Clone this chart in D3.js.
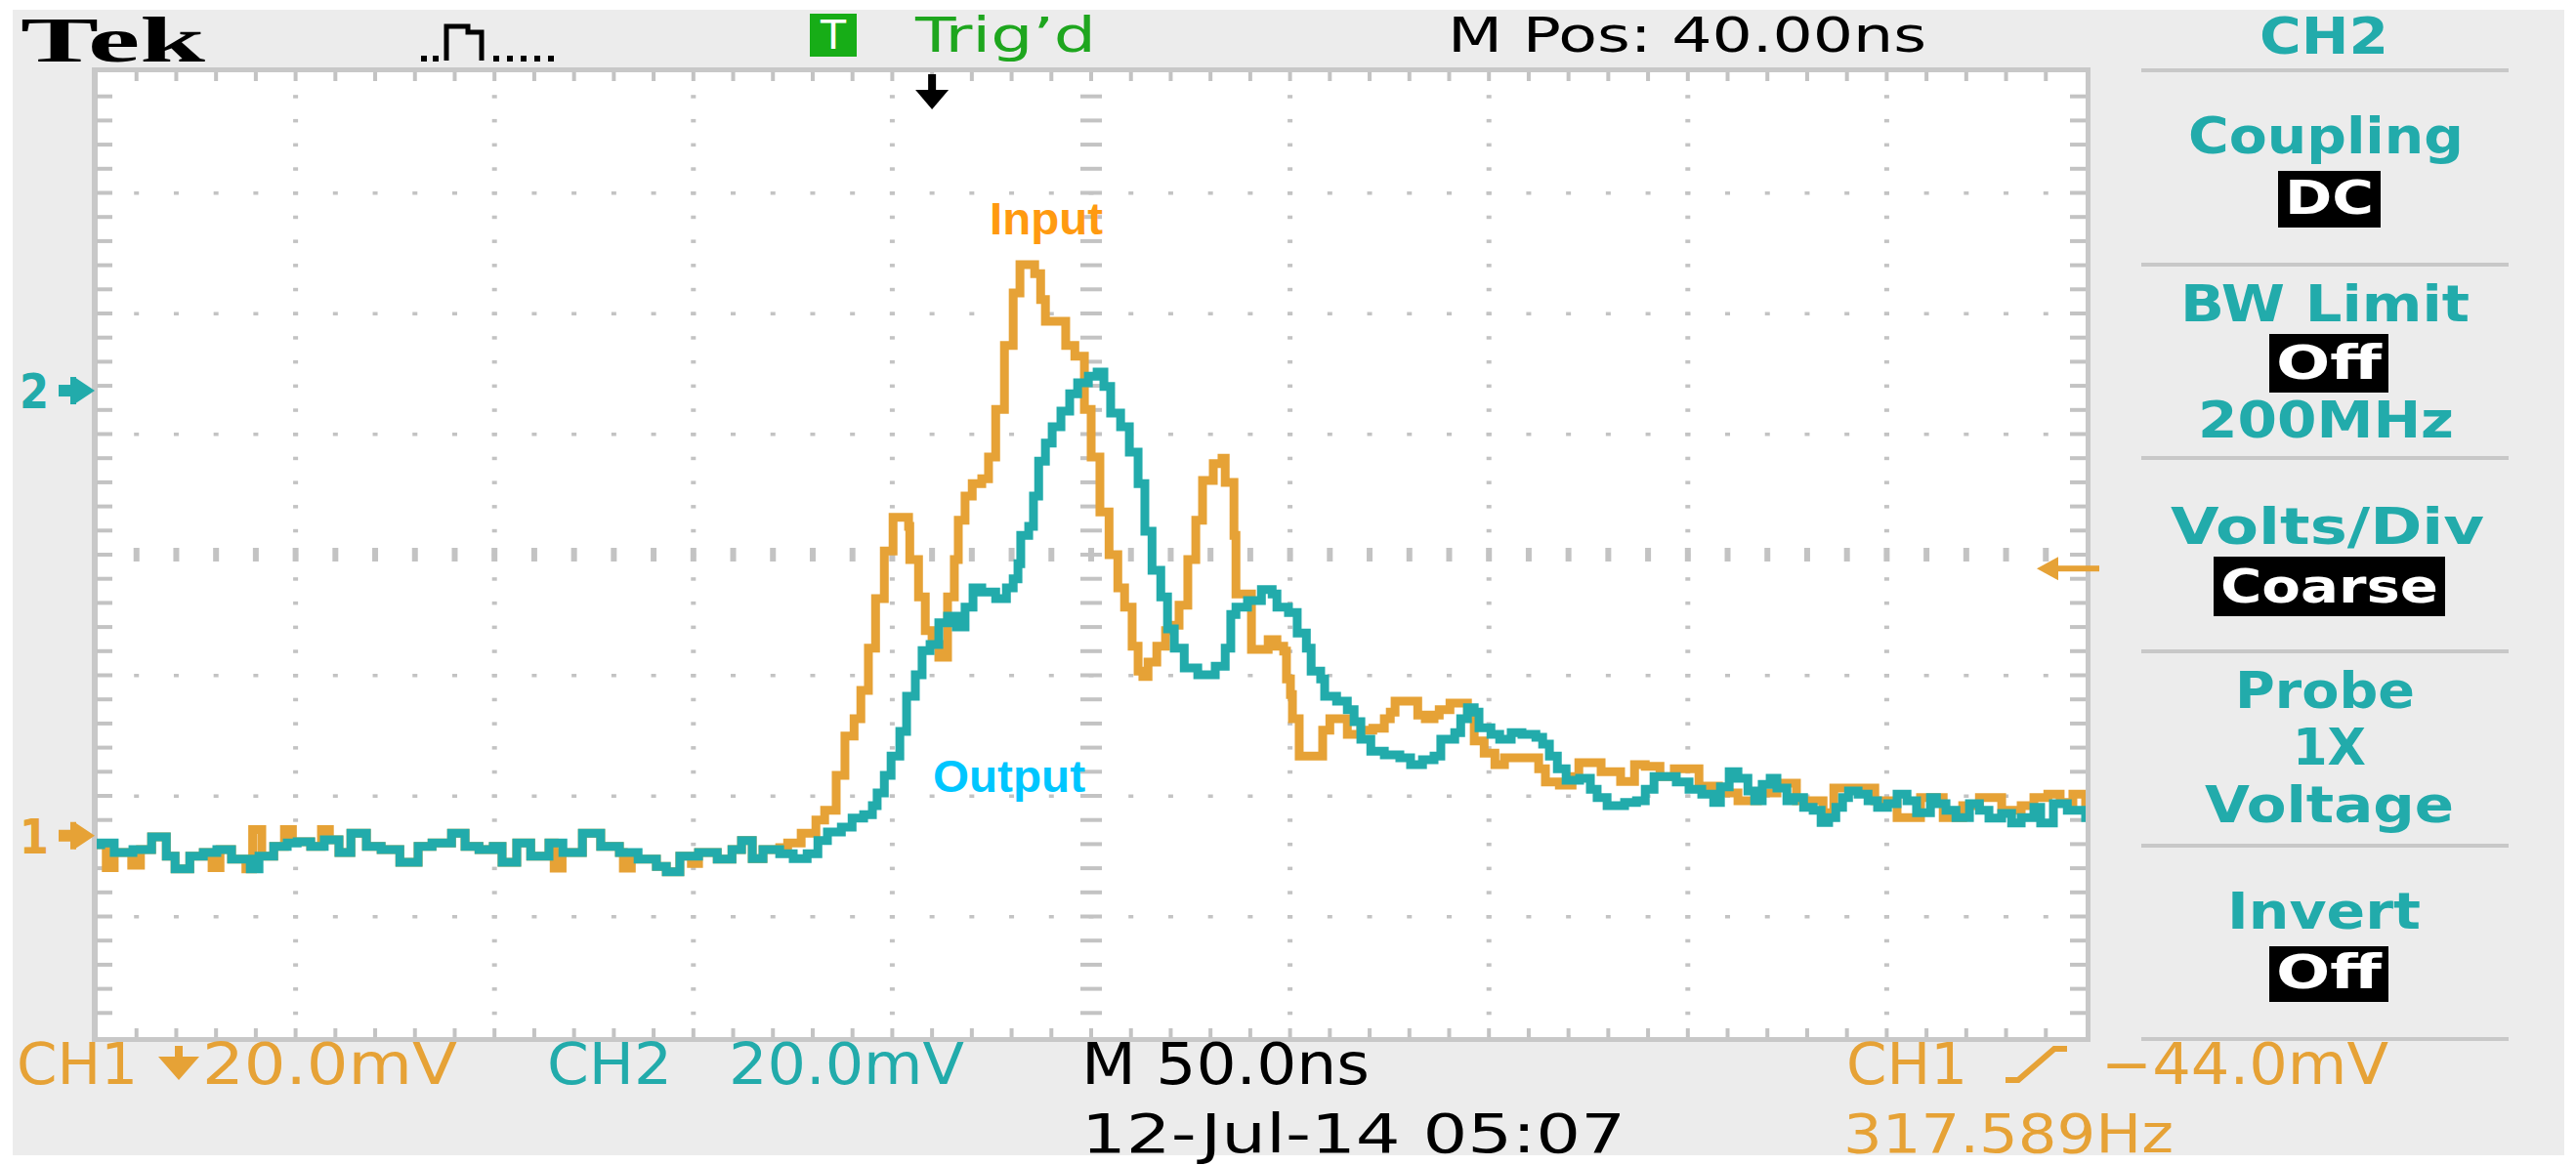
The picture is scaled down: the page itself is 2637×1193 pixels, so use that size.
<!DOCTYPE html>
<html>
<head>
<meta charset="utf-8">
<style>
  body { margin: 0; background: #ffffff; }
  svg { display: block; }
</style>
<script src="https://cdn.jsdelivr.net/npm/d3@7"></script>
</head>
<body>
<svg width="2637" height="1193"></svg>
<script>
//  scope settings
var nsPerDiv = 50;
var mvPerDiv = 20;
var hDivs = 10;
var vDivs = 8;
var mPos = 40;            // ns, trigger point left of screen centre
var ch1Ground = -46.6;    // mV from screen centre
var ch2Ground = 27.2;
var trigLevel = -2.3;

//  CH1 (input) trace, [time ns from trigger, mV from screen centre]
var ch1Trace = [[-210.0,-48.1],[-207.6,-51.9],[-205.6,-49.4],[-201.2,-51.5],[-199.0,-48.9],[-196.2,-46.8],[-192.5,-50.0],[-190.3,-52.1],[-186.6,-50.0],[-183.2,-49.4],[-181.0,-51.9],[-179.0,-48.9],[-176.1,-50.5],[-172.5,-52.1],[-170.8,-45.6],[-168.5,-50.0],[-165.5,-48.4],[-162.8,-45.6],[-160.8,-47.6],[-156.2,-48.4],[-153.5,-45.6],[-151.5,-47.3],[-149.1,-49.4],[-146.1,-46.2],[-142.2,-48.4],[-138.5,-48.9],[-133.8,-51.0],[-129.2,-48.4],[-125.7,-47.8],[-120.8,-46.2],[-117.4,-48.4],[-113.9,-48.9],[-110.3,-48.4],[-108.1,-51.0],[-104.4,-47.8],[-100.9,-50.0],[-96.3,-47.8],[-95.0,-52.0],[-93.0,-49.4],[-87.9,-46.2],[-83.3,-48.4],[-78.6,-49.4],[-77.6,-52.0],[-75.6,-50.5],[-69.3,-51.7],[-66.8,-52.6],[-63.4,-50.0],[-60.5,-51.2],[-58.7,-49.4],[-54.0,-50.5],[-50.3,-48.9],[-47.9,-47.4],[-45.2,-50.4],[-42.5,-48.9],[-38.3,-48.6],[-36.3,-47.8],[-32.9,-46.2],[-29.2,-44.0],[-27.0,-42.4],[-24.1,-36.6],[-21.9,-30.1],[-19.6,-27.2],[-17.9,-22.5],[-16.0,-15.5],[-14.2,-7.3],[-12.0,0.6],[-9.8,6.2],[-5.9,4.7],[-5.6,-0.8],[-3.4,-7.0],[-1.7,-12.6],[0.0,-14.9],[1.7,-17.0],[3.9,-7.0],[5.6,-0.8],[6.6,5.7],[8.3,9.7],[10.1,11.8],[12.5,12.6],[14.2,16.2],[16.0,24.1],[18.2,34.7],[20.4,43.4],[22.1,48.1],[25.8,46.6],[27.3,42.3],[28.5,38.7],[33.6,34.7],[35.9,32.9],[38.3,24.1],[40.0,16.2],[42.2,7.1],[44.5,0.0],[46.7,-5.5],[48.4,-8.7],[50.3,-15.2],[51.8,-19.3],[53.0,-20.2],[54.3,-17.8],[56.5,-15.2],[58.7,-12.6],[60.4,-11.7],[62.1,-8.4],[64.3,-0.8],[66.3,5.7],[68.0,12.3],[70.7,15.1],[72.9,16.0],[73.7,12.0],[75.9,3.2],[76.4,-6.5],[80.3,-15.7],[84.5,-14.1],[86.7,-15.2],[88.4,-16.0],[89.1,-20.6],[90.1,-23.2],[90.6,-27.2],[92.3,-33.4],[98.2,-29.1],[100.0,-27.2],[104.4,-29.8],[107.8,-29.1],[110.8,-28.8],[113.7,-27.2],[115.2,-26.1],[116.4,-24.3],[122.1,-26.6],[124.0,-27.2],[126.2,-26.6],[127.5,-25.7],[130.2,-24.6],[134.6,-27.0],[136.3,-30.9],[138.8,-32.9],[141.5,-34.8],[143.9,-33.7],[152.5,-35.5],[154.2,-37.7],[157.7,-38.2],[160.9,-36.8],[162.6,-34.5],[168.2,-36.0],[173.1,-37.6],[176.6,-34.8],[179.3,-35.1],[183.0,-36.8],[186.6,-35.5],[192.8,-38.4],[197.7,-39.5],[202.6,-40.8],[207.5,-39.5],[212.4,-37.9],[217.3,-40.8],[224.0,-42.8],[226.7,-38.7],[237.0,-40.8],[242.6,-43.6],[248.5,-40.3],[254.2,-43.6],[259.1,-41.6],[263.3,-40.3],[268.9,-42.4],[273.8,-41.6],[277.0,-40.3],[280.5,-39.7],[283.6,-41.1],[286.8,-39.7],[290.0,-41.6]];

//  CH2 (output) trace
var ch2Trace = [[-210.0,-48.1],[-209.0,-47.8],[-205.6,-49.4],[-200.9,-48.9],[-196.2,-46.8],[-192.5,-50.0],[-190.3,-52.1],[-186.6,-50.0],[-183.2,-49.4],[-179.8,-48.9],[-176.1,-50.5],[-171.4,-52.1],[-169.2,-50.0],[-165.5,-48.4],[-162.1,-47.8],[-159.6,-47.6],[-156.2,-48.4],[-152.8,-47.3],[-149.1,-49.4],[-146.1,-46.2],[-142.2,-48.4],[-138.5,-48.9],[-133.8,-51.0],[-129.2,-48.4],[-125.7,-47.8],[-120.8,-46.2],[-117.4,-48.4],[-113.9,-48.9],[-110.3,-48.4],[-108.1,-51.0],[-104.4,-47.8],[-100.9,-50.0],[-96.3,-47.8],[-92.8,-49.4],[-87.9,-46.2],[-83.3,-48.4],[-78.6,-49.4],[-73.9,-50.5],[-69.3,-51.7],[-66.8,-52.6],[-63.4,-50.0],[-58.7,-49.4],[-54.0,-50.5],[-50.3,-48.9],[-47.9,-47.4],[-45.2,-50.4],[-42.5,-48.9],[-38.3,-49.6],[-34.9,-50.4],[-31.4,-49.6],[-28.7,-47.4],[-26.3,-46.0],[-22.8,-45.2],[-20.1,-43.7],[-17.2,-43.1],[-15.0,-41.6],[-13.8,-39.5],[-12.0,-36.6],[-10.3,-33.4],[-8.1,-29.3],[-6.4,-23.5],[-4.2,-19.9],[-2.5,-15.9],[-0.5,-14.9],[1.7,-11.3],[3.9,-10.2],[6.1,-12.0],[8.3,-8.7],[10.3,-5.5],[12.5,-6.2],[16.0,-7.3],[18.7,-5.5],[20.4,-4.0],[21.6,-1.5],[22.3,3.2],[24.3,4.7],[25.5,9.7],[26.8,15.5],[28.5,18.5],[30.2,21.2],[32.4,23.8],[34.6,26.7],[36.6,28.5],[39.3,29.6],[41.5,30.3],[43.2,27.9],[44.9,23.5],[47.4,21.2],[49.6,17.0],[51.8,11.8],[53.5,3.9],[55.3,-2.6],[57.5,-7.0],[59.2,-12.3],[60.9,-15.5],[63.4,-18.8],[66.8,-19.9],[71.2,-18.5],[73.7,-15.5],[75.1,-9.9],[76.4,-8.7],[79.3,-7.6],[82.8,-5.8],[85.5,-6.5],[86.7,-8.7],[89.6,-9.6],[91.8,-13.0],[94.1,-15.5],[95.3,-19.3],[97.7,-20.6],[98.7,-23.5],[101.7,-24.3],[104.4,-25.7],[106.1,-27.7],[107.8,-30.6],[110.3,-32.6],[113.7,-33.2],[117.6,-33.7],[120.3,-34.8],[123.3,-34.0],[126.2,-33.4],[127.9,-30.6],[131.4,-29.5],[132.9,-27.2],[134.6,-25.4],[136.3,-26.1],[137.5,-28.7],[140.5,-29.8],[142.7,-30.6],[145.6,-29.5],[148.3,-29.8],[151.8,-30.3],[153.5,-31.4],[155.2,-33.4],[157.2,-35.5],[159.4,-37.4],[162.8,-37.1],[165.5,-38.9],[167.2,-40.3],[169.7,-41.6],[174.1,-41.1],[177.1,-40.8],[179.3,-38.9],[181.5,-36.8],[187.1,-37.7],[190.3,-38.9],[193.5,-39.7],[196.5,-41.1],[198.2,-38.5],[200.4,-36.0],[202.6,-37.1],[205.1,-39.2],[206.8,-40.8],[208.7,-38.1],[210.7,-37.1],[212.4,-38.7],[214.9,-40.8],[216.6,-40.3],[219.1,-41.9],[221.5,-42.4],[223.5,-44.4],[225.4,-43.6],[227.2,-41.9],[228.9,-40.3],[230.4,-39.2],[232.8,-39.7],[235.3,-40.8],[237.7,-41.9],[240.2,-41.3],[242.6,-39.7],[245.1,-40.8],[247.5,-42.8],[251.0,-40.3],[252.5,-41.3],[254.9,-42.4],[257.4,-43.6],[260.8,-41.3],[263.3,-42.4],[265.7,-43.7],[268.9,-42.9],[271.4,-44.5],[273.8,-43.6],[277.0,-41.9],[278.7,-44.5],[281.9,-41.3],[285.4,-42.4],[290.0,-43.6]];

//  colours
var orange = "#e6a236";
var teal = "#22abab";
var gridGray = "#c3c3c3";
var condFont = "'DejaVu Sans Condensed', 'DejaVu Sans', sans-serif";
var wideFont = "'DejaVu Sans', Verdana, sans-serif";

var svg = d3.select("svg");
var width = +svg.attr("width");
var height = +svg.attr("height");

//  graticule area
var plotLeft = 99, plotRight = 2135, plotTop = 74, plotBottom = 1062;
var timeStart = mPos - hDivs / 2 * nsPerDiv;

var x = d3.scaleLinear()
  .domain([timeStart, timeStart + hDivs * nsPerDiv])
  .range([plotLeft, plotRight]);
var y = d3.scaleLinear()
  .domain([-vDivs / 2 * mvPerDiv, vDivs / 2 * mvPerDiv])
  .range([plotBottom, plotTop]);

//  background
svg.append("rect").attr("x", 13).attr("y", 10).attr("width", 2612).attr("height", 1173).attr("fill", "#ececec");
svg.append("rect").attr("x", plotLeft - 5).attr("y", plotTop - 5)
  .attr("width", plotRight - plotLeft + 10).attr("height", plotBottom - plotTop + 10).attr("fill", "#c8c8c8");
svg.append("rect").attr("x", plotLeft + 1).attr("y", plotTop)
  .attr("width", plotRight - plotLeft - 1).attr("height", plotBottom - plotTop).attr("fill", "#ffffff");

var grid = svg.append("g");
var minorT = d3.range(timeStart, timeStart + hDivs * nsPerDiv + 0.01, nsPerDiv / 5);
var minorV = d3.range(-vDivs / 2 * mvPerDiv, vDivs / 2 * mvPerDiv + 0.01, mvPerDiv / 5);
var majorT = d3.range(1, hDivs).map(function(i) { return timeStart + i * nsPerDiv; });
var majorV = d3.range(1, vDivs).map(function(i) { return -vDivs / 2 * mvPerDiv + i * mvPerDiv; });
var centreT = timeStart + hDivs / 2 * nsPerDiv;

//  dots along the major lines
majorT.forEach(function(t) {
  if (t === centreT) return;
  minorV.slice(1, -1).forEach(function(v) {
    grid.append("rect").attr("x", x(t) - 2.5).attr("y", y(v) - 1.5).attr("width", 5).attr("height", 3.5).attr("fill", gridGray);
  });
});
majorV.forEach(function(v) {
  if (v === 0) return;
  minorT.slice(1, -1).forEach(function(t) {
    grid.append("rect").attr("x", x(t) - 2.5).attr("y", y(v) - 1.5).attr("width", 5).attr("height", 3.5).attr("fill", gridGray);
  });
});

//  centre axes with ticks
minorT.slice(1, -1).forEach(function(t) {
  grid.append("rect").attr("x", x(t) - 3).attr("y", y(0) - 7).attr("width", 6).attr("height", 14).attr("fill", gridGray);
});
minorV.slice(1, -1).forEach(function(v) {
  grid.append("rect").attr("x", x(centreT) - 11).attr("y", y(v) - 2).attr("width", 22).attr("height", 4).attr("fill", gridGray);
});

//  edge ticks
minorT.slice(1, -1).forEach(function(t) {
  grid.append("rect").attr("x", x(t) - 2).attr("y", plotTop).attr("width", 4).attr("height", 9).attr("fill", gridGray);
  grid.append("rect").attr("x", x(t) - 2).attr("y", plotBottom - 9).attr("width", 4).attr("height", 9).attr("fill", gridGray);
});
minorV.slice(1, -1).forEach(function(v) {
  grid.append("rect").attr("x", plotLeft).attr("y", y(v) - 2).attr("width", 16).attr("height", 4).attr("fill", gridGray);
  grid.append("rect").attr("x", plotRight - 16).attr("y", y(v) - 2).attr("width", 16).attr("height", 4).attr("fill", gridGray);
});

//  traces
svg.append("clipPath").attr("id", "screen")
  .append("rect").attr("x", plotLeft).attr("y", plotTop)
  .attr("width", plotRight - plotLeft).attr("height", plotBottom - plotTop);

var line = d3.line()
  .x(function(d) { return x(d[0]); })
  .y(function(d) { return y(d[1]); })
  .curve(d3.curveStepAfter);

var traces = svg.append("g").attr("clip-path", "url(#screen)");
traces.append("path").datum(ch1Trace)
  .attr("d", line).attr("fill", "none").attr("stroke", orange)
  .attr("stroke-width", 9).attr("stroke-linejoin", "miter").attr("stroke-linecap", "square");
traces.append("path").datum(ch2Trace)
  .attr("d", line).attr("fill", "none").attr("stroke", teal)
  .attr("stroke-width", 9).attr("stroke-linejoin", "miter").attr("stroke-linecap", "square");

//  text helper, stretched to the measured width
function addText(str, x0, x1, baseline, size, color, family, weight) {
  return svg.append("text")
    .attr("x", x0).attr("y", baseline)
    .attr("font-size", size).attr("font-family", family)
    .attr("font-weight", weight || "normal")
    .attr("font-stretch", family === condFont ? "condensed" : "normal")
    .attr("fill", color)
    .attr("textLength", x1 - x0).attr("lengthAdjust", "spacingAndGlyphs")
    .text(str);
}

//  annotations
addText("Input", 1013, 1129, 240, 46, "#ff9a10", "'Liberation Sans', Arial, sans-serif", "bold");
addText("Output", 955, 1111, 811, 46, "#00c6ff", "'Liberation Sans', Arial, sans-serif", "bold");

//  trigger position arrow
var tx = x(0);
svg.append("rect").attr("x", tx - 4).attr("y", plotTop + 2).attr("width", 8).attr("height", 22).attr("fill", "#000");
svg.append("path").attr("d", "M" + (tx - 17) + ",92 L" + (tx + 17) + ",92 L" + tx + ",112 Z").attr("fill", "#000");

//  trigger level arrow on the right edge
var ty = y(trigLevel);
svg.append("path").attr("d", "M" + (plotRight - 50) + "," + ty + " l22,-12 v24 Z").attr("fill", orange);
svg.append("rect").attr("x", plotRight - 30).attr("y", ty - 3).attr("width", 44).attr("height", 6).attr("fill", orange);

//  channel ground markers
function groundMarker(label, v, color) {
  var gy = y(v);
  addText(label, 20, 50, gy + 18, 50, color, wideFont, "bold");
  svg.append("rect").attr("x", 60).attr("y", gy - 6).attr("width", 18).attr("height", 12).attr("fill", color);
  svg.append("rect").attr("x", 72).attr("y", gy - 14).attr("width", 6).attr("height", 28).attr("fill", color);
  svg.append("path").attr("d", "M76," + (gy - 14) + " L97," + gy + " L76," + (gy + 14) + " Z").attr("fill", color);
}
groundMarker("1", ch1Ground, orange);
groundMarker("2", ch2Ground, teal);

//  header
addText("Tek", 21, 210, 63, 66, "#000", "'Liberation Serif', 'DejaVu Serif', serif", "bold");
svg.append("path")
  .attr("d", "M457,62 V27 H479 V33 H493 V62")
  .attr("fill", "none").attr("stroke", "#000").attr("stroke-width", 5);
[431, 443, 505, 519, 533, 547, 561].forEach(function(px) {
  svg.append("rect").attr("x", px).attr("y", 57).attr("width", 6).attr("height", 6).attr("fill", "#000");
});
svg.append("rect").attr("x", 829).attr("y", 14).attr("width", 48).attr("height", 44).attr("fill", "#17ad17");
addText("T", 840, 866, 50, 40, "#ffffff", condFont);
addText("Trig\u2019d", 937, 1122, 53, 50, "#1ea61e", condFont);
addText("M Pos: 40.00ns", 1482, 1972, 53, 50, "#000", condFont);

//  side menu
addText("CH2", 2313, 2445, 55, 52, teal, wideFont, "bold");
[72, 271, 469, 667, 866, 1064].forEach(function(sy) {
  svg.append("rect").attr("x", 2192).attr("y", sy - 2).attr("width", 376).attr("height", 4).attr("fill", "#c8c8c8");
});
var menuLabels = [
  ["Coupling", 2240, 2522, 157],
  ["BW Limit", 2232, 2528, 329],
  ["200MHz", 2250, 2512, 448],
  ["Volts/Div", 2222, 2543, 557],
  ["Probe", 2288, 2472, 725],
  ["1X", 2347, 2422, 783],
  ["Voltage", 2257, 2512, 842],
  ["Invert", 2280, 2478, 951]
];
menuLabels.forEach(function(m) {
  addText(m[0], m[1], m[2], m[3], 51, teal, wideFont, "bold");
});
var menuValues = [
  ["DC", 2332, 2437, 175, 233],
  ["Off", 2323, 2445, 342, 402],
  ["Coarse", 2266, 2503, 570, 631],
  ["Off", 2323, 2445, 969, 1026]
];
menuValues.forEach(function(m) {
  svg.append("rect").attr("x", m[1]).attr("y", m[3]).attr("width", m[2] - m[1]).attr("height", m[4] - m[3]).attr("fill", "#000");
  addText(m[0], m[1] + 7, m[2] - 7, m[4] - 14, 48, "#ffffff", wideFont, "bold");
});

//  footer
addText("CH1", 17, 141, 1110, 58, orange, condFont);
svg.append("rect").attr("x", 179).attr("y", 1071).attr("width", 8).attr("height", 14).attr("fill", orange);
svg.append("path").attr("d", "M162,1082 H204 L183,1106 Z").attr("fill", orange);
addText("20.0mV", 207, 468, 1110, 58, orange, condFont);
addText("CH2", 560, 688, 1110, 58, teal, condFont);
addText("20.0mV", 746, 987, 1110, 58, teal, condFont);
addText("M 50.0ns", 1107, 1402, 1110, 58, "#000", condFont);
addText("12-Jul-14 05:07", 1107, 1664, 1180, 55, "#000", condFont);
addText("CH1", 1890, 2014, 1110, 58, orange, condFont);
svg.append("path").attr("d", "M2053,1106 H2066 L2103,1074 H2116")
  .attr("fill", "none").attr("stroke", orange).attr("stroke-width", 6);
addText("\u221244.0mV", 2151, 2445, 1110, 58, orange, condFont);
addText("317.589Hz", 1887, 2225, 1180, 55, orange, condFont);
</script>
</body>
</html>
